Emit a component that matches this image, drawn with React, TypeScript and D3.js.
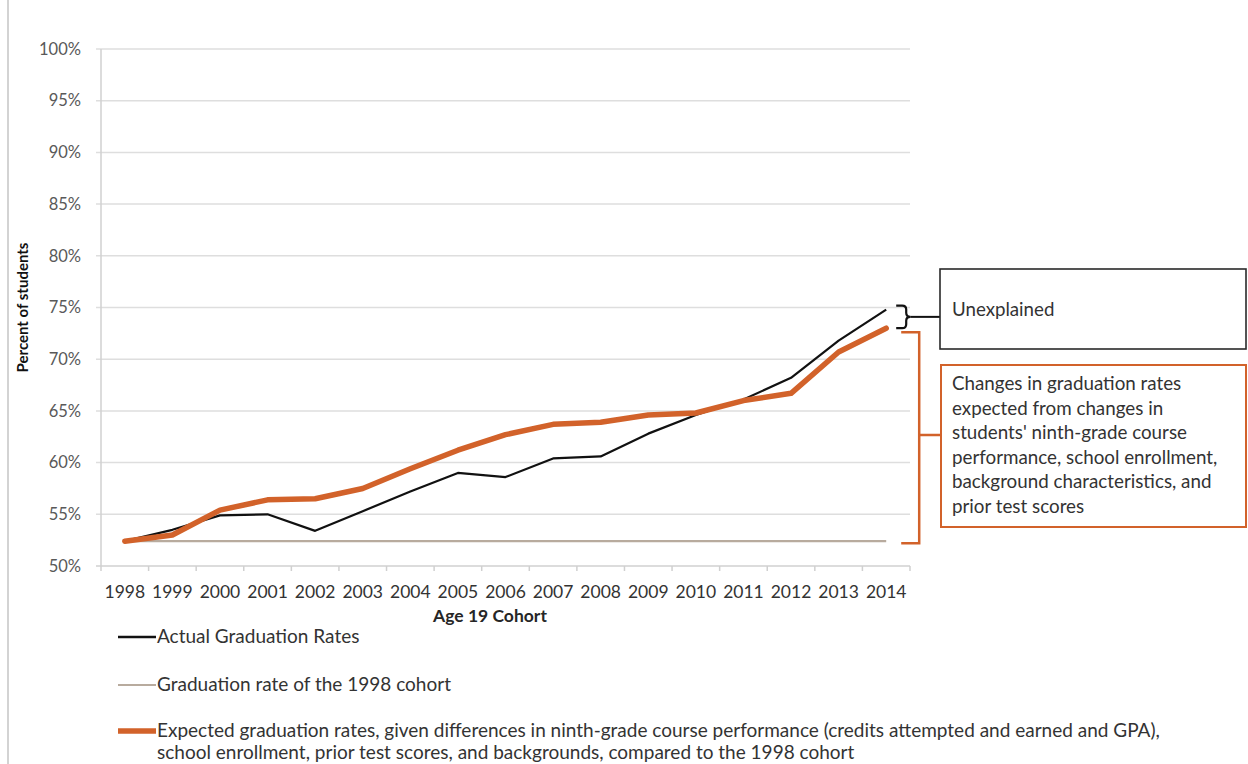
import React from "react";
import * as d3 from "d3";

const years = ["1998","1999","2000","2001","2002","2003","2004","2005","2006","2007","2008","2009","2010","2011","2012","2013","2014"];
const actualRates = [52.4, 53.5, 54.9, 55.0, 53.4, 55.3, 57.2, 59.0, 58.6, 60.4, 60.6, 62.8, 64.6, 66.1, 68.2, 71.8, 74.8];
const baselineRates = [52.4, 52.4, 52.4, 52.4, 52.4, 52.4, 52.4, 52.4, 52.4, 52.4, 52.4, 52.4, 52.4, 52.4, 52.4, 52.4, 52.4];
const expectedRates = [52.4, 53.0, 55.4, 56.4, 56.5, 57.5, 59.4, 61.2, 62.7, 63.7, 63.9, 64.6, 64.8, 66.0, 66.7, 70.7, 73.0];
const yTicks = [50, 55, 60, 65, 70, 75, 80, 85, 90, 95, 100];

const legendItems = [
  { label: ["Actual Graduation Rates"], color: "#111111", width: 2.5 },
  { label: ["Graduation rate of the 1998 cohort"], color: "#b8ab9e", width: 2.2 },
  {
    label: [
      "Expected graduation rates, given differences in ninth-grade course performance (credits attempted and earned and GPA),",
      "school enrollment, prior test scores, and backgrounds, compared to the 1998 cohort",
    ],
    color: "#d2622a",
    width: 5.5,
  },
];

const unexplainedText = "Unexplained";
const changesText = [
  "Changes in graduation rates",
  "expected from changes in",
  "students' ninth-grade course",
  "performance, school enrollment,",
  "background characteristics, and",
  "prior test scores",
];

const FONT = "Lato, 'Open Sans', sans-serif";
const ORANGE = "#d2622a";

export default function App() {
  const W = 1248, H = 764;
  const x = d3.scaleBand<string>().domain(years).range([101, 910]);
  const y = d3.scaleLinear().domain([50, 100]).range([566, 49]);
  const cx = (d: string) => (x(d) as number) + x.bandwidth() / 2;

  const line = d3
    .line<number>()
    .x((_, i) => cx(years[i]))
    .y((v) => y(v));

  const last = years.length - 1;
  const bTop = y(actualRates[last]) - 4;
  const bBot = y(expectedRates[last]);
  const bMid = (bTop + bBot) / 2;
  const oTop = y(expectedRates[last]) + 4;
  const oBot = y(baselineRates[last]) + 2;
  const bx = cx(years[last]) + 10;

  const legendRows = [637, 685, 731];

  return (
    <svg
      width={W}
      height={H}
      style={{ position: "absolute", left: 0, top: 0, background: "#fff" }}
      fontFamily={FONT}
    >
      <rect x={0} y={0} width={W} height={H} fill="#fff" />
      <line x1={8} x2={8} y1={0} y2={H} stroke="#c4c4c4" strokeWidth={1.5} />

      {/* gridlines */}
      {yTicks.map((t) =>
        t === 50 ? null : (
          <line key={"g" + t} x1={96} x2={910} y1={y(t)} y2={y(t)} stroke="#dedede" strokeWidth={1.5} />
        )
      )}
      {/* axes */}
      <line x1={101} x2={101} y1={y(100)} y2={y(50)} stroke="#d0d0d0" strokeWidth={1.5} />
      <line x1={96} x2={910} y1={y(50)} y2={y(50)} stroke="#d0d0d0" strokeWidth={1.5} />
      {years.map((yr) => (
        <line key={"t" + yr} x1={x(yr) as number} x2={x(yr) as number} y1={y(50)} y2={y(50) + 5} stroke="#d0d0d0" strokeWidth={1.5} />
      ))}
      <line x1={910} x2={910} y1={y(50)} y2={y(50) + 5} stroke="#d0d0d0" strokeWidth={1.5} />

      {yTicks.map((t) => (
        <text key={"yl" + t} x={81} y={y(t)} dy="0.35em" textAnchor="end" fontSize={16.5} fill="#595959">
          {t}%
        </text>
      ))}
      {years.map((yr) => (
        <text key={"xl" + yr} x={cx(yr)} y={598} textAnchor="middle" fontSize={17.5} fill="#333">
          {yr}
        </text>
      ))}
      <text x={490} y={622} textAnchor="middle" fontSize={17.5} fontWeight={700} fill="#262626">
        Age 19 Cohort
      </text>
      <text
        transform={`translate(28,${(y(100) + y(50)) / 2}) rotate(-90)`}
        textAnchor="middle"
        fontSize={15}
        fontWeight={700}
        fill="#111"
      >
        Percent of students
      </text>

      {/* series */}
      <path d={line(baselineRates) || ""} fill="none" stroke="#b8ab9e" strokeWidth={2.2} />
      <path d={line(actualRates) || ""} fill="none" stroke="#111" strokeWidth={2.2} strokeLinejoin="round" />
      <path d={line(expectedRates) || ""} fill="none" stroke={ORANGE} strokeWidth={5.5} strokeLinejoin="round" strokeLinecap="round" />

      {/* black bracket */}
      <path
        d={`M ${bx} ${bTop} H ${bx + 6} Q ${bx + 10} ${bTop} ${bx + 10} ${bTop + 4} V ${bMid - 4} Q ${bx + 10} ${bMid} ${bx + 14} ${bMid} Q ${bx + 10} ${bMid} ${bx + 10} ${bMid + 4} V ${bBot - 4} Q ${bx + 10} ${bBot} ${bx + 6} ${bBot} H ${bx}`}
        fill="none"
        stroke="#111"
        strokeWidth={2.2}
      />
      <line x1={bx + 14} x2={940} y1={bMid} y2={bMid} stroke="#111" strokeWidth={2} />
      <rect x={940} y={269} width={306} height={80} fill="#fff" stroke="#2a2a2a" strokeWidth={1.6} />
      <text x={952} y={316} fontSize={18.7} fill="#333">
        {unexplainedText}
      </text>

      {/* orange bracket */}
      <path d={`M ${bx + 5} ${oTop} H ${bx + 23} V ${oBot} H ${bx + 5}`} fill="none" stroke={ORANGE} strokeWidth={2.5} />
      <line x1={bx + 23} x2={941} y1={435} y2={435} stroke={ORANGE} strokeWidth={2.5} />
      <rect x={941} y={365} width={305} height={162} fill="#fff" stroke={ORANGE} strokeWidth={2} />
      {changesText.map((t, i) => (
        <text key={"c" + i} x={952} y={390 + i * 24.6} fontSize={18.8} fill="#333">
          {t}
        </text>
      ))}

      {/* legend */}
      {legendItems.map((it, i) => (
        <g key={"lg" + i}>
          <line x1={118} x2={156} y1={legendRows[i]} y2={legendRows[i]} stroke={it.color} strokeWidth={it.width} />
          {it.label.map((l, j) => (
            <text key={j} x={157} y={legendRows[i] + 6 + j * 22} fontSize={19} fill="#333">
              {l}
            </text>
          ))}
        </g>
      ))}
    </svg>
  );
}
